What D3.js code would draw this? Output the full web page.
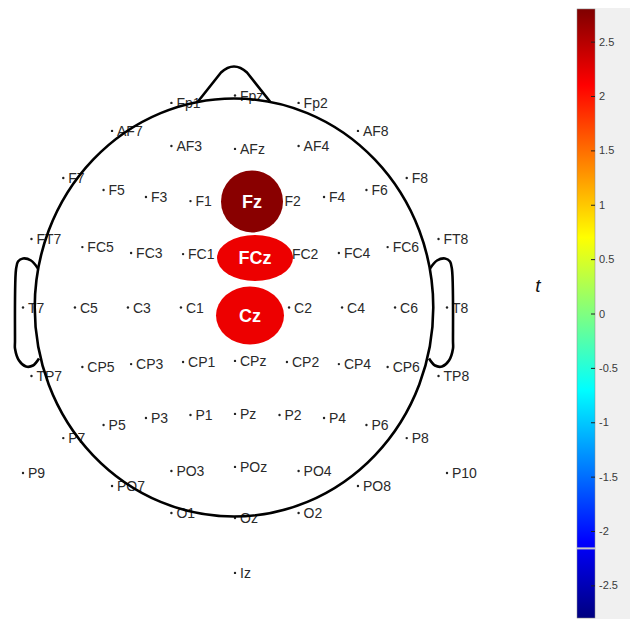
<!DOCTYPE html>
<html>
<head>
<meta charset="utf-8">
<script src="https://cdn.jsdelivr.net/npm/d3@7"></script>
<style>
  body { margin: 0; background: #fff; }
  svg { display: block; font-family: "Liberation Sans", Arial, sans-serif; }
  .elec-label { font-size: 14px; fill: #2a2a2a; }
  .cb-axis text { font-size: 11px; fill: #3a3a3a; font-family: "Liberation Sans", Arial, sans-serif; }
  .cb-axis line { stroke: #222; }
</style>
</head>
<body>
<div id="topo"></div>
<script>
// electrode layout, head units (1 = T7/T8 distance from Cz), y pointing to the nose
const electrodeNames = [
  "Fp1", "Fpz", "Fp2",
  "AF7", "AF3", "AFz", "AF4", "AF8",
  "F7", "F5", "F3", "F1", "Fz", "F2", "F4", "F6", "F8",
  "FT7", "FC5", "FC3", "FC1", "FCz", "FC2", "FC4", "FC6", "FT8",
  "T7", "C5", "C3", "C1", "Cz", "C2", "C4", "C6", "T8",
  "TP7", "CP5", "CP3", "CP1", "CPz", "CP2", "CP4", "CP6", "TP8",
  "P7", "P5", "P3", "P1", "Pz", "P2", "P4", "P6", "P8",
  "P9", "P10",
  "PO7", "PO3", "POz", "PO4", "PO8",
  "O1", "Oz", "O2",
  "Iz"
];
const electrodeX = [
  -0.30, 0, 0.30,
  -0.58, -0.30, 0, 0.30, 0.58,
  -0.81, -0.62, -0.42, -0.21, 0, 0.21, 0.42, 0.62, 0.81,
  -0.96, -0.72, -0.49, -0.245, 0, 0.245, 0.49, 0.72, 0.96,
  -1.0, -0.755, -0.505, -0.255, 0, 0.255, 0.505, 0.755, 1.0,
  -0.96, -0.72, -0.49, -0.245, 0, 0.245, 0.49, 0.72, 0.96,
  -0.81, -0.62, -0.42, -0.21, 0, 0.21, 0.42, 0.62, 0.81,
  -1.0, 1.0,
  -0.58, -0.30, 0, 0.30, 0.58,
  -0.30, 0, 0.30,
  0
];
const electrodeY = [
  0.965, 1.0, 0.965,
  0.833, 0.762, 0.748, 0.762, 0.833,
  0.611, 0.554, 0.521, 0.502, 0.505, 0.502, 0.521, 0.554, 0.611,
  0.323, 0.285, 0.257, 0.252, 0.248, 0.252, 0.257, 0.285, 0.323,
  0, 0, 0, 0, 0, 0, 0, 0, 0,
  -0.323, -0.281, -0.267, -0.257, -0.252, -0.257, -0.267, -0.281, -0.323,
  -0.616, -0.554, -0.521, -0.507, -0.502, -0.507, -0.521, -0.554, -0.616,
  -0.781, -0.781,
  -0.842, -0.771, -0.752, -0.771, -0.842,
  -0.969, -0.993, -0.969,
  -1.252
];

// significant electrodes and their t values
const sigNames = ["Fz", "FCz", "Cz"];
const sigT = [2.75, 2.2, 2.2];

// colour bar
const tDomain = [-2.8, 2.8];
const tTicks = [-2.5, -2, -1.5, -1, -0.5, 0, 0.5, 1, 1.5, 2, 2.5];
const cbGlitch = -2.16;

// marker shapes (px) for the highlighted electrodes
const markerShape = {
  Fz:  { dx: 17, dy: 1, rx: 31, ry: 31 },
  FCz: { dx: 20, dy: 3, rx: 38, ry: 23 },
  Cz:  { dx: 15, dy: 8, rx: 34, ry: 29 }
};

const W = 630, H = 619;

// MATLAB-like jet colormap
function jet(t) {
  const c = v => Math.max(0, Math.min(1, v));
  const r = c(1.5 - Math.abs(4 * t - 3));
  const g = c(1.5 - Math.abs(4 * t - 2));
  const b = c(1.5 - Math.abs(4 * t - 1));
  return d3.rgb(r * 255, g * 255, b * 255).formatHex();
}
const tNorm = d3.scaleLinear().domain(tDomain).range([0, 1]).clamp(true);
const color = v => jet(tNorm(v));

const svg = d3.select("#topo").append("svg")
  .attr("width", W)
  .attr("height", H);

// head scales
const x = d3.scaleLinear().domain([-1, 1]).range([235 - 212, 235 + 212]);
const y = d3.scaleLinear().domain([-1, 1]).range([307.5 + 212, 307.5 - 212]);

const electrodes = electrodeNames.map((n, i) => ({ name: n, x: electrodeX[i], y: electrodeY[i] }));
const plain = electrodes.filter(d => !sigNames.includes(d.name));

// dots + labels
const eg = svg.append("g");
eg.selectAll("circle.dot")
  .data(plain)
  .join("circle")
  .attr("class", "dot")
  .attr("cx", d => x(d.x))
  .attr("cy", d => y(d.y))
  .attr("r", 1.2)
  .attr("fill", "#222");

eg.selectAll("text.elec-label")
  .data(plain)
  .join("text")
  .attr("class", "elec-label")
  .attr("x", d => x(d.x) + 5)
  .attr("y", d => y(d.y) + 5)
  .text(d => d.name);

// head outline
const hx = x(0) - 1, hy = y(0);
const head = svg.append("g")
  .attr("fill", "none")
  .attr("stroke", "#000")
  .attr("stroke-width", 2.6)
  .attr("stroke-linejoin", "round");

head.append("ellipse")
  .attr("cx", hx)
  .attr("cy", hy)
  .attr("rx", x(0.94) - x(0))
  .attr("ry", y(0) - y(0.986));

// nose
head.append("path")
  .attr("d", `M${hx - 36},${hy - 206} L${hx - 13},${hy - 235} Q${hx},${hy - 247} ${hx + 13},${hy - 235} L${hx + 36},${hy - 206}`);

// ears
const earPts = [[-196, -39], [-203, -47], [-211, -49], [-216, -46], [-218, -38],
  [-219, 34], [-219, 41], [-215, 53], [-208, 59], [-201, 58], [-195, 51]];
const earLine = d3.line().curve(d3.curveCatmullRom.alpha(0.5));
head.append("path").attr("d", earLine(earPts.map(p => [hx + p[0], hy + p[1]])));
head.append("path").attr("d", earLine(earPts.map(p => [hx - p[0], hy + p[1]])));

// highlighted electrodes
const sig = sigNames.map((n, i) => {
  const e = electrodes.find(d => d.name === n);
  return { name: n, t: sigT[i], x: e.x, y: e.y, s: markerShape[n] };
});
const sg = svg.append("g");
sg.selectAll("ellipse")
  .data(sig)
  .join("ellipse")
  .attr("cx", d => x(d.x) + d.s.dx)
  .attr("cy", d => y(d.y) + d.s.dy)
  .attr("rx", d => d.s.rx)
  .attr("ry", d => d.s.ry)
  .attr("fill", d => color(d.t));
sg.selectAll("text")
  .data(sig)
  .join("text")
  .attr("x", d => x(d.x) + d.s.dx)
  .attr("y", d => y(d.y) + d.s.dy)
  .attr("dy", "0.35em")
  .attr("text-anchor", "middle")
  .attr("fill", "#fff")
  .attr("font-weight", "bold")
  .attr("font-size", 18)
  .text(d => d.name);

// colour bar
const cbX = 577, cbW = 18;
const cb = d3.scaleLinear().domain(tDomain).range([618, 9]);

svg.append("rect")
  .attr("x", cbX)
  .attr("y", 8)
  .attr("width", W - cbX)
  .attr("height", H - 8)
  .attr("fill", "#f0f0f0");

const grad = svg.append("defs").append("linearGradient")
  .attr("id", "jet")
  .attr("x1", 0).attr("y1", 1)
  .attr("x2", 0).attr("y2", 0);
grad.selectAll("stop")
  .data(d3.range(0, 1.0001, 1 / 64))
  .join("stop")
  .attr("offset", d => d)
  .attr("stop-color", d => jet(d));

svg.append("rect")
  .attr("x", cbX)
  .attr("y", cb(tDomain[1]))
  .attr("width", cbW)
  .attr("height", cb(tDomain[0]) - cb(tDomain[1]))
  .attr("fill", "url(#jet)")
  .attr("stroke", "#8a8a8a")
  .attr("stroke-width", 0.5);

svg.append("line")
  .attr("x1", cbX)
  .attr("x2", cbX + cbW)
  .attr("y1", cb(cbGlitch))
  .attr("y2", cb(cbGlitch))
  .attr("stroke", "#c8c8c8")
  .attr("stroke-width", 2);

svg.append("g")
  .attr("class", "cb-axis")
  .attr("transform", `translate(${cbX + cbW},0)`)
  .call(d3.axisRight(cb).tickValues(tTicks).tickSize(-4).tickPadding(4).tickFormat(d => String(d)))
  .call(g => g.select(".domain").remove());

// colour bar title
svg.append("text")
  .attr("x", 538)
  .attr("y", 292)
  .attr("text-anchor", "middle")
  .attr("font-style", "italic")
  .attr("font-size", 19)
  .attr("fill", "#111")
  .text("t");
</script>
</body>
</html>
